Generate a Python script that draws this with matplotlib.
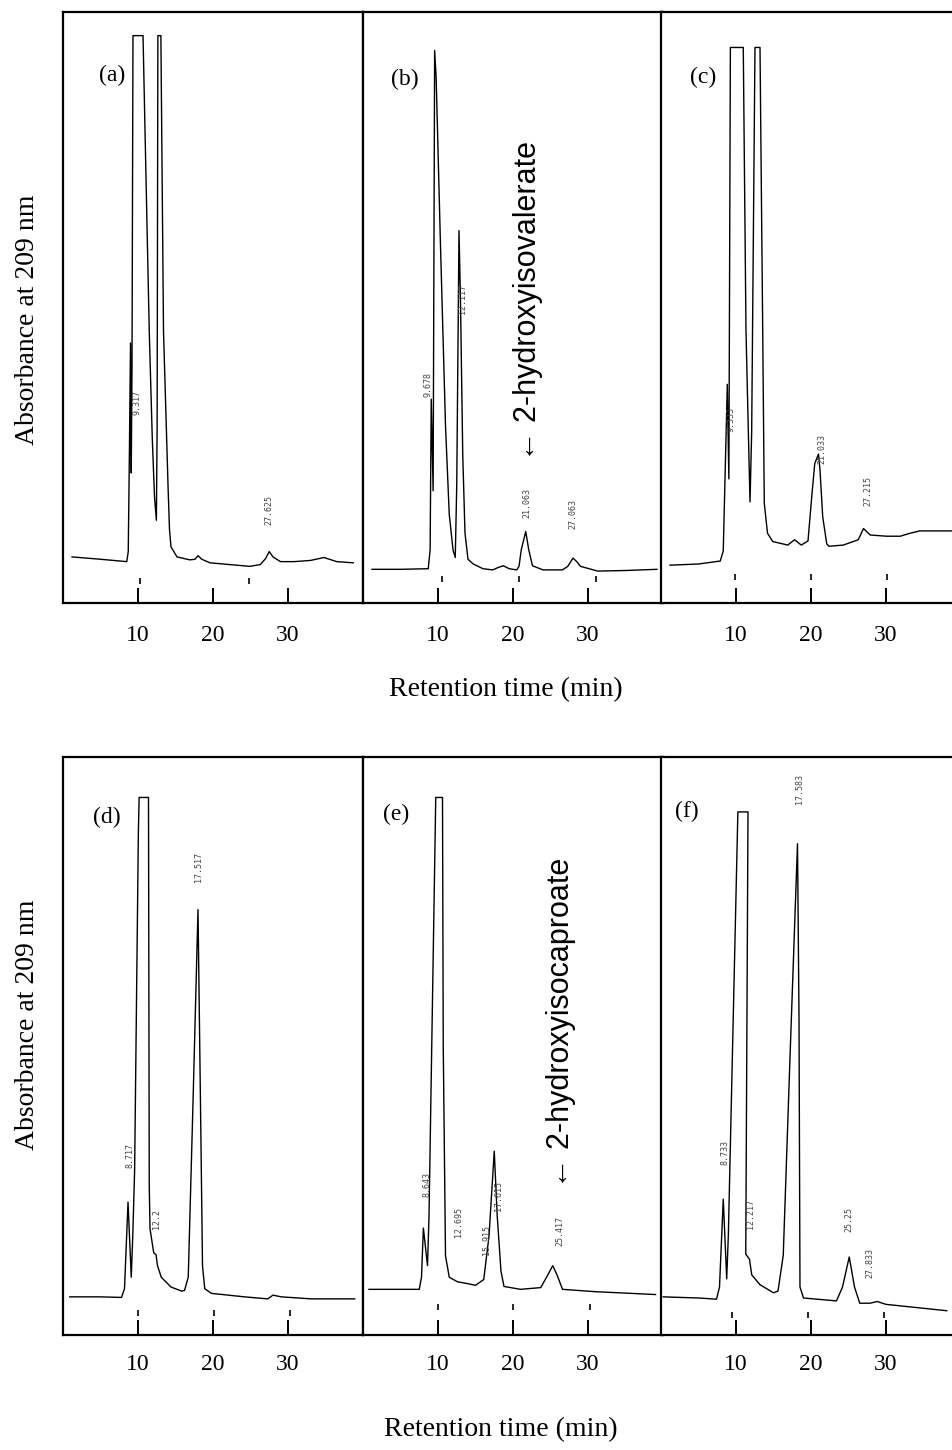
import matplotlib
matplotlib.use("Agg")
import matplotlib.pyplot as plt
from matplotlib import font_manager


def pick_font(names):
    for name in names:
        try:
            font_manager.findfont(name, fallback_to_default=False)
            return name
        except ValueError:
            continue
    return "DejaVu Sans"


SERIF = pick_font(["Liberation Serif", "DejaVu Serif"])
SANS = pick_font(["Liberation Sans", "DejaVu Sans"])

TICKS = [10, 20, 30]
TICK_LABELS = ["10", "20", "30"]
XLABEL = "Retention time (min)"
YLABEL = "Absorbance at 209 nm"

# traces: time (min) vs. height as a fraction of the panel
A_T = [1.2, 5.0, 8.5, 8.7, 8.85, 9.0, 9.1, 9.2, 9.33, 10.67, 11.1, 11.5, 11.9, 12.2, 12.45,
       12.55, 12.65, 13.05, 13.4, 14.0, 14.2, 14.4, 15.2, 16.9, 17.6, 18.0, 18.5, 19.6, 24.9,
       26.3, 27.0, 27.5, 28.0, 29.0, 30.8, 33.0, 34.8, 36.5, 38.7]
A_Y = [0.078, 0.074, 0.070, 0.087, 0.25, 0.44, 0.22, 0.40, 0.96, 0.96, 0.70, 0.46, 0.28, 0.18, 0.14,
       0.30, 0.96, 0.96, 0.46, 0.20, 0.124, 0.095, 0.078, 0.073, 0.074, 0.080, 0.074, 0.068, 0.062,
       0.065, 0.075, 0.087, 0.078, 0.070, 0.070, 0.072, 0.077, 0.070, 0.068]

B_T = [1.2, 5.0, 8.7, 8.95, 9.1, 9.35, 9.55, 9.75, 10.3, 11.0, 11.5, 12.0, 12.3, 12.5, 12.8,
       13.0, 13.3, 13.6, 14.0, 14.7, 16.0, 17.3, 18.0, 18.7, 19.5, 20.5, 20.8, 21.1, 21.7, 22.1,
       22.6, 24.0, 26.6, 27.3, 28.0, 28.5, 29.0, 31.3, 35.0, 39.2]
B_Y = [0.057, 0.057, 0.058, 0.09, 0.345, 0.19, 0.935, 0.89, 0.62, 0.30, 0.15, 0.09, 0.077, 0.20, 0.63,
       0.51, 0.25, 0.118, 0.074, 0.066, 0.058, 0.056, 0.060, 0.063, 0.058, 0.056, 0.062, 0.09, 0.121, 0.09,
       0.063, 0.056, 0.056, 0.062, 0.076, 0.070, 0.062, 0.054, 0.055, 0.057]

C_T = [1.2, 5.0, 7.9, 8.3, 8.84, 9.05, 9.25, 10.97, 11.15, 11.33, 11.64, 11.87, 12.09, 12.3, 12.53,
       13.2, 13.56, 13.77, 14.2, 14.9, 16.9, 17.8, 18.7, 19.6, 20.1, 20.5, 21.0, 21.2, 21.56, 22.1,
       22.4, 24.3, 26.3, 27.0, 27.9, 30.1, 31.9, 33.2, 34.5, 38.5, 40.5]
C_Y = [0.064, 0.066, 0.071, 0.088, 0.37, 0.21, 0.94, 0.94, 0.70, 0.462, 0.293, 0.171, 0.29, 0.60, 0.94,
       0.94, 0.462, 0.169, 0.118, 0.104, 0.098, 0.107, 0.098, 0.105, 0.18, 0.236, 0.252, 0.225, 0.146, 0.10,
       0.096, 0.098, 0.107, 0.126, 0.115, 0.113, 0.113, 0.118, 0.122, 0.122, 0.122]

D_T = [0.9, 5.0, 7.8, 8.2, 8.67, 9.1, 9.3, 9.55, 10.05, 10.15, 11.4, 11.45, 11.5, 11.6, 12.1,
       12.4, 12.6, 13.1, 14.4, 15.8, 16.2, 16.7, 17.33, 18.0, 18.4, 18.6, 18.9, 19.8, 24.2, 27.3,
       28.0, 29.1, 33.1, 38.9]
D_Y = [0.066, 0.066, 0.065, 0.08, 0.23, 0.10, 0.17, 0.285, 0.87, 0.93, 0.93, 0.60, 0.26, 0.184, 0.142,
       0.139, 0.12, 0.10, 0.083, 0.076, 0.077, 0.10, 0.40, 0.736, 0.33, 0.12, 0.08, 0.072, 0.066, 0.0625,
       0.069, 0.066, 0.0625, 0.0625]

E_T = [0.8, 5.0, 7.5, 7.8, 8.05, 8.6, 8.8, 9.7, 10.6, 10.7, 11.0, 11.5, 12.6, 13.9, 15.0,
       16.1, 16.8, 17.5, 17.9, 18.4, 18.8, 21.0, 23.7, 24.6, 25.3, 25.9, 26.6, 30.9, 39.0]
E_Y = [0.079, 0.079, 0.079, 0.10, 0.185, 0.12, 0.205, 0.93, 0.93, 0.50, 0.137, 0.10, 0.092, 0.089, 0.086,
       0.096, 0.171, 0.318, 0.205, 0.11, 0.084, 0.079, 0.082, 0.103, 0.12, 0.103, 0.079, 0.075, 0.070]

F_T = [0.3, 5.0, 7.4, 7.8, 8.3, 8.76, 8.98, 10.25, 11.6, 11.3, 11.8, 12.1, 13.2, 15.0, 15.6,
       16.3, 17.2, 18.2, 18.4, 18.53, 19.0, 23.4, 24.2, 25.1, 25.8, 26.5, 27.9, 28.8, 30.0, 38.1]
F_Y = [0.066, 0.064, 0.062, 0.083, 0.235, 0.097, 0.173, 0.905, 0.905, 0.14, 0.131, 0.104, 0.087, 0.073, 0.076,
       0.138, 0.48, 0.85, 0.55, 0.083, 0.064, 0.059, 0.083, 0.135, 0.083, 0.055, 0.055, 0.058, 0.053, 0.042]

# recorder time marks just under the baseline
A_MARKS, A_MARK_Y = [10.3, 24.8], 0.038
B_MARKS, B_MARK_Y = [10.5, 20.8, 31.1], 0.040
C_MARKS, C_MARK_Y = [9.9, 20.0, 30.1], 0.044
D_MARKS, D_MARK_Y = [10.0, 20.1, 30.2], 0.038
E_MARKS, E_MARK_Y = [10.0, 20.0, 30.2], 0.048
F_MARKS, F_MARK_Y = [9.4, 19.6, 29.7], 0.035

# integrator peak labels: (text, time, height)
A_PEAKS = [("9.317", 9.8, 0.34), ("27.625", 27.5, 0.157)]
B_PEAKS = [("9.678", 8.7, 0.37), ("12.117", 13.2, 0.515), ("21.063", 21.8, 0.17), ("27.063", 28.0, 0.15)]
C_PEAKS = [("9.333", 9.4, 0.31), ("21.033", 21.5, 0.26), ("27.215", 27.6, 0.19)]
D_PEAKS = [("8.717", 8.9, 0.31), ("12.2", 12.45, 0.20), ("17.517", 18.1, 0.81)]
E_PEAKS = [("8.643", 8.5, 0.26), ("12.695", 12.7, 0.195), ("15.915", 16.4, 0.165),
           ("17.615", 18.0, 0.24), ("25.417", 26.3, 0.18)]
F_PEAKS = [("8.733", 8.5, 0.315), ("12.217", 11.9, 0.21), ("17.583", 18.5, 0.945),
           ("25.25", 25.0, 0.20), ("27.833", 27.9, 0.125)]

LETTERS = ["a", "b", "c", "d", "e", "f"]
LETTER_POS = [(6.5, 0.893), (5.6, 0.886), (5.6, 0.889), (5.8, 0.896), (4.4, 0.90), (3.4, 0.906)]

ANNOTATIONS = {"b": ("\u2190 2-hydroxyisovalerate", 22.0, 0.24),
               "e": ("\u2190 2-hydroxyisocaproate", 26.4, 0.255)}

panels = [
    (A_T, A_Y, A_MARKS, A_MARK_Y, A_PEAKS),
    (B_T, B_Y, B_MARKS, B_MARK_Y, B_PEAKS),
    (C_T, C_Y, C_MARKS, C_MARK_Y, C_PEAKS),
    (D_T, D_Y, D_MARKS, D_MARK_Y, D_PEAKS),
    (E_T, E_Y, E_MARKS, E_MARK_Y, E_PEAKS),
    (F_T, F_Y, F_MARKS, F_MARK_Y, F_PEAKS),
]

W, H = 952, 1450
fig = plt.figure(figsize=(W / 100, H / 100), dpi=100)
fig.patch.set_facecolor("white")

lefts = [63, 363, 661]
rows = [(12, 603), (757, 1335)]
pads = [16, 14]

for i, (t, y, marks, mark_y, peaks) in enumerate(panels):
    row, col = divmod(i, 3)
    top_px, bot_px = rows[row]
    ax = fig.add_axes([lefts[col] / W, 1 - bot_px / H, 300 / W, (bot_px - top_px) / H])
    ax.plot(t, y, color="black", lw=1.0)
    ax.plot(marks, [mark_y] * len(marks), ls="none", marker="|", ms=4, mew=1.2, color="black")
    for text, pt, pf in peaks:
        ax.text(pt, pf, text, rotation=90, ha="center", va="center", fontsize=6,
                family="DejaVu Sans Mono", color="#444444")
    lx, ly = LETTER_POS[i]
    ax.text(lx, ly, f"({LETTERS[i]})", ha="center", va="center", fontsize=17, family=SERIF)
    if LETTERS[i] in ANNOTATIONS:
        text, at, af = ANNOTATIONS[LETTERS[i]]
        ax.text(at, af, text, rotation=90, ha="center", va="bottom", fontsize=22,
                family=[SANS, "DejaVu Sans"])
    ax.set_xlim(0, 40)
    ax.set_ylim(0, 1)
    ax.set_xticks(TICKS)
    ax.set_xticklabels(TICK_LABELS, family=SERIF)
    ax.set_yticks([])
    ax.tick_params(axis="x", direction="in", length=11, width=1.4, pad=pads[row], labelsize=17)
    for s in ax.spines.values():
        s.set_linewidth(1.6)

fig.text(28 / W, 1 - 320 / H, YLABEL, rotation=90, ha="center", va="center", fontsize=20, family=SERIF)
fig.text(28 / W, 1 - 1025 / H, YLABEL, rotation=90, ha="center", va="center", fontsize=20, family=SERIF)
fig.text(506 / W, 1 - 690 / H, XLABEL, ha="center", va="center", fontsize=20, family=SERIF)
fig.text(501 / W, 1 - 1430 / H, XLABEL, ha="center", va="center", fontsize=20, family=SERIF)

fig.savefig("out.png", dpi=100)
